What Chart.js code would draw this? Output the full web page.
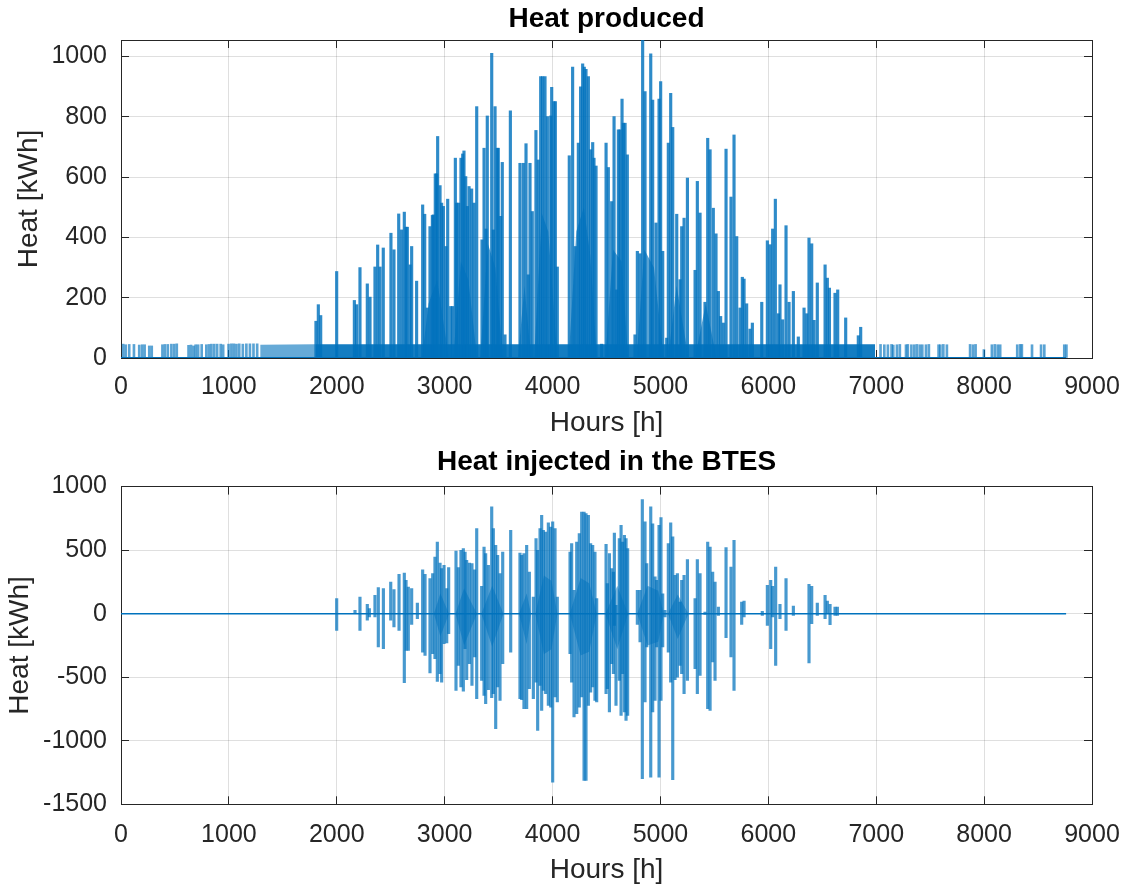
<!DOCTYPE html>
<html>
<head>
<meta charset="utf-8">
<script src="https://cdn.jsdelivr.net/npm/chart.js@4"></script>
<style>
  body { margin: 0; background: #fff; width: 1128px; height: 890px; position: relative; overflow: hidden; }
  .panel { position: absolute; left: 0; width: 1128px; }
</style>
</head>
<body>
<div class="panel" style="top:0;height:445px"><canvas id="produced"></canvas></div>
<div class="panel" style="top:440px;height:450px"><canvas id="injected"></canvas></div>
<script>
// axis ticks
const hourTicks = [0, 1000, 2000, 3000, 4000, 5000, 6000, 7000, 8000, 9000];
const producedTicks = [0, 200, 400, 600, 800, 1000];
const injectedTicks = [-1500, -1000, -500, 0, 500, 1000];

// Heat produced: daily peaks (hour, kWh)
const producedHours = [1807,1829,1851,1999,2163,2184,2215,2283,2308,2354,
  2379,2401,2431,2502,2530,2574,2601,2626,2642,2654,
  2679,2694,2740,2796,2815,2839,2864,2886,2895,2913,
  2926,2935,2957,2972,2988,3012,3028,3056,3074,3099,
  3111,3130,3151,3167,3179,3195,3210,3226,3250,3272,
  3297,3346,3365,3383,3395,3436,3451,3467,3488,3497,
  3519,3534,3559,3609,3698,3729,3754,3775,3791,3812,
  3846,3868,3890,3908,3930,3952,3983,3992,4013,4026,
  4044,4155,4186,4211,4239,4260,4279,4294,4310,4332,
  4353,4372,4384,4403,4455,4496,4517,4548,4570,4594,
  4610,4625,4644,4656,4672,4693,4764,4786,4811,4835,
  4857,4910,4928,4959,4987,5002,5021,5058,5073,5095,
  5114,5151,5182,5197,5219,5250,5321,5342,5367,5413,
  5438,5460,5490,5515,5537,5558,5583,5608,5654,5682,
  5707,5738,5759,5775,5799,5830,5852,5939,5991,6016,
  6040,6065,6093,6108,6133,6164,6192,6232,6278,6331,
  6356,6377,6402,6424,6454,6526,6547,6566,6618,6643,
  6717,6834,6856];
const producedPeaks = [122,177,141,287,191,177,300,246,202,302,
  375,302,365,414,359,478,425,484,434,434,
  309,370,255,508,477,166,436,473,475,611,
  611,735,572,514,503,370,527,171,171,663,
  514,514,663,677,687,602,503,569,561,514,
  834,392,696,428,803,1011,425,834,696,696,
  470,649,77,820,646,646,711,276,646,486,
  755,657,934,934,934,801,803,898,851,851,
  302,671,965,370,713,900,976,965,958,934,
  691,715,663,637,46,713,632,519,801,226,
  757,757,859,779,779,674,77,354,346,1055,
  884,1009,856,448,859,917,354,66,713,878,
  765,477,260,436,464,597,291,586,481,185,
  729,691,497,412,221,138,116,693,534,740,
  403,166,268,262,180,96,116,185,389,376,
  428,527,147,243,127,439,185,221,70,166,
  147,398,379,125,249,309,265,232,215,226,
  133,74,102];

// small off-season spikes
const producedLowHours = [20,43,76,120,169,196,219,262,285,384,
  407,434,467,493,517,626,649,672,692,715,
  748,791,815,838,864,891,924,947,997,1023,
  1046,1070,1096,1129,1162,1195,1228,1262,
  7040,7075,7108,7142,7158,7192,7219,7276,7293,7326,
  7353,7377,7404,7427,7461,7488,7578,7595,7622,7655,
  7870,7897,7921,7998,8072,8099,8126,8149,8307,8334,
  8350,8444,8528,8558,8743,8763];
const producedLowValues = [46,44,45,45,43,44,44,40,40,44,
  45,45,46,46,47,42,43,40,44,44,
  45,44,45,46,46,46,46,44,46,47,
  47,46,47,46,47,47,47,47,
  45,44,44,45,43,44,45,44,45,44,
  44,45,44,44,44,45,44,44,45,44,
  45,44,45,28,44,45,44,44,44,45,
  45,44,44,44,44,44];

// continuous low band of hourly production (striped start, then solid)
const earlyBandHours = [1290, 1290, 1800, 1800];
const earlyBandTop = [0, 44, 46, 0];
const bandHours = [1800, 1800, 6990, 6990];
const bandTop = [0, 46, 46, 0];

// periods where the hourly lines merge into a solid block (jagged top)
const producedDenseHours = [2790, 2850, 2930, 3040, 3080, 3150, 3220, 3300, 3330, 3400, 3470, 3540,
  3680, 3740, 3800, 3830, 3900, 3960, 4045, 4150, 4220, 4290, 4350, 4410,
  4490, 4560, 4640, 4700, 4780, 4850, 4940, 5030, 5070, 5150, 5260, 5320, 5420, 5520];
const producedDenseLevel = [0, 180, 260, 0, 0, 320, 260, 0, 0, 380, 300, 0,
  0, 240, 0, 0, 480, 420, 0, 0, 420, 500, 340, 0,
  0, 360, 320, 0, 0, 360, 300, 0, 0, 240, 0, 0, 180, 0];

// Heat injected in the BTES (hour, max kWh, min kWh)
const injectedHours = [1999,2169,2215,2283,2302,2354,2385,2432,2500,2530,
  2577,2626,2642,2663,2694,2747,2796,2818,2864,2889,
  2910,2932,2957,2972,2994,3019,3037,3105,3127,3151,
  3173,3189,3204,3229,3253,3278,3297,3343,3365,3380,
  3405,3436,3451,3473,3491,3513,3538,3612,3698,3714,
  3735,3760,3785,3822,3847,3862,3884,3899,3915,3936,
  3961,3983,4001,4023,4044,4162,4177,4199,4224,4248,
  4270,4292,4310,4332,4353,4372,4393,4409,4496,4508,
  4527,4548,4564,4573,4588,4619,4635,4650,4666,4681,
  4696,4786,4811,4832,4857,4873,4910,4928,4950,4965,
  4987,5005,5021,5042,5073,5095,5114,5135,5157,5182,
  5197,5219,5250,5321,5342,5367,5413,5438,5460,5484,
  5506,5537,5608,5654,5682,5753,5775,5944,5991,6022,
  6040,6068,6108,6164,6232,6377,6402,6454,6526,6547,
  6572,6618,6640];
const injectedUp = [118,26,131,73,40,144,205,197,249,189,
  310,320,262,210,197,84,346,310,276,315,
  446,564,399,354,380,197,362,493,362,499,
  512,485,420,399,394,346,669,215,525,472,
  380,840,669,538,459,315,485,656,477,459,
  472,538,328,131,590,499,669,774,656,643,
  714,682,722,669,131,485,551,184,564,630,
  800,800,787,774,551,538,485,118,546,236,
  472,354,328,635,66,590,695,564,617,590,
  512,184,184,897,722,394,840,708,289,262,
  695,756,157,26,551,714,604,302,315,92,
  262,302,425,118,425,315,13,564,525,328,
  249,52,520,367,577,92,100,18,223,262,
  215,367,73,276,60,231,215,84,144,100,
  73,52,52];
const injectedDown = [-131,0,-131,-52,-26,-26,-262,-276,-52,-105,
  -131,-543,-289,-289,-84,-40,-302,-328,-467,-315,
  -354,-533,-472,-538,-236,-231,-157,-603,-407,-577,
  -609,-276,-520,-394,-564,-341,-669,-525,-643,-708,
  -598,-661,-630,-905,-577,-682,-394,-302,-669,-677,
  -748,-748,-590,-669,-538,-918,-564,-761,-603,-630,
  -722,-735,-1325,-656,-695,-315,-538,-813,-787,-735,
  -656,-1312,-1312,-722,-617,-577,-682,-695,-630,-590,
  -774,-394,-472,-92,-722,-525,-800,-472,-774,-840,
  -800,-84,-223,-1299,-695,-262,-1286,-774,-682,-262,
  -1286,-682,-262,-26,-302,-538,-1307,-520,-499,-407,
  -472,-630,-525,-433,-630,-485,-5,-748,-761,-380,
  -525,-13,-189,-341,-603,-84,-26,-13,-92,-276,
  -26,-407,-40,-131,-13,-388,-79,-13,-40,0,
  -87,-13,-13];

// dense core of the injection bursts (jagged envelope)
const injectedDenseHours = [2900, 2960, 3040, 3100, 3180, 3300, 3340, 3440, 3545, 3690, 3760, 3800,
  3840, 3920, 3990, 4045, 4160, 4260, 4340, 4410, 4490, 4600, 4700, 4785, 4880, 4980, 5030,
  5070, 5160, 5260];
const injectedDenseUp = [0, 160, 0, 0, 200, 0, 0, 220, 0, 0, 160, 0,
  0, 300, 260, 0, 0, 280, 240, 0, 0, 220, 0, 0, 220, 180, 0,
  0, 150, 0];
const injectedDenseDown = [0, -180, 0, 0, -250, 0, 0, -260, 0, 0, -240, 0,
  0, -320, -280, 0, 0, -330, -300, 0, 0, -280, 0, 0, -250, -220, 0,
  0, -200, 0];

const simEnd = 8760;

const ink = '#262626';
const gridInk = 'rgba(38,38,38,0.15)';
const blue = '#0072BD';
const FONT = '"Liberation Sans", Arial, Helvetica, sans-serif';

function useTicks(list) {
  return scale => { scale.ticks = list.map(v => ({ value: v })); };
}

function area(xs, ys, color) {
  return { type: 'line', data: xs.map((x, i) => ({ x: x, y: ys[i] })), borderWidth: 0, pointRadius: 0,
           tension: 0, fill: 'origin', backgroundColor: color, borderColor: color };
}

function boxScales(o) {
  const tickFont = { family: FONT, size: 25 };
  const labelFont = { family: FONT, size: 28 };
  const inward = { color: gridInk, lineWidth: 1, tickColor: ink, tickWidth: 1, tickLength: -8, offset: false };
  const outline = { color: gridInk, tickColor: ink, tickWidth: 1, tickLength: -8, drawOnChartArea: false, offset: false };
  const border = { color: ink, width: 1 };
  const noPad = s => { s.paddingLeft = 0; s.paddingRight = 0; s.paddingTop = 0; s.paddingBottom = 0; };
  return {
    x: {
      type: 'linear', position: 'bottom', min: 0, max: 9000, offset: false,
      afterBuildTicks: useTicks(hourTicks),
      afterFit: s => { s.height = o.xHeight; noPad(s); },
      grid: inward, border: border,
      ticks: { color: ink, font: tickFont, padding: o.xTickPad, maxRotation: 0, autoSkip: false, callback: v => String(v) },
      title: { display: true, text: 'Hours [h]', color: ink, font: labelFont, padding: { top: 0, bottom: o.xTitlePad } }
    },
    xTop: {
      type: 'linear', position: 'top', min: 0, max: 9000, offset: false,
      afterBuildTicks: useTicks(hourTicks),
      afterFit: s => { s.height = 0; noPad(s); },
      grid: outline, border: border, ticks: { display: false }
    },
    y: {
      type: 'linear', position: 'left', min: o.yMin, max: o.yMax,
      afterBuildTicks: useTicks(o.yTicks),
      afterFit: s => { s.width = 121; noPad(s); },
      grid: inward, border: border,
      ticks: { color: ink, font: tickFont, padding: 22, callback: v => String(v) },
      title: { display: true, text: 'Heat [kWh]', color: ink, font: labelFont, padding: { top: o.yTitlePad, bottom: 0 } }
    },
    yRight: {
      type: 'linear', position: 'right', min: o.yMin, max: o.yMax,
      afterBuildTicks: useTicks(o.yTicks),
      afterFit: s => { s.width = 0; noPad(s); },
      grid: outline, border: border, ticks: { display: false }
    }
  };
}

function makeChart(id, datasets, o) {
  return new Chart(document.getElementById(id), {
    type: 'bar',
    data: { datasets: datasets },
    options: {
      responsive: true, maintainAspectRatio: false, animation: false, events: [],
      layout: { padding: { left: 0, right: 36, top: 0, bottom: 0 } },
      plugins: {
        legend: { display: false },
        tooltip: { enabled: false },
        title: {
          display: true, text: o.title, color: '#000', fullSize: false,
          font: { family: FONT, size: 28, weight: 'bold' },
          padding: { top: o.titleTop, bottom: o.titleBottom }
        }
      },
      scales: boxScales(o)
    }
  });
}

// top panel
makeChart('produced', [
  { type: 'line', data: [{ x: 0, y: 0 }, { x: simEnd, y: 0 }], borderColor: blue, borderWidth: 2, pointRadius: 0 },
  { type: 'bar', data: producedHours.map((h, i) => ({ x: h, y: producedPeaks[i] })),
    backgroundColor: 'rgba(0,114,189,0.82)', barThickness: 2.5, grouped: false, borderWidth: 0 },
  { type: 'bar', data: producedLowHours.map((h, i) => ({ x: h, y: producedLowValues[i] })),
    backgroundColor: 'rgba(0,114,189,0.65)', barThickness: 2, grouped: false, borderWidth: 0 },
  area(bandHours, bandTop, 'rgba(0,114,189,0.92)'),
  area(earlyBandHours, earlyBandTop, 'rgba(0,114,189,0.6)'),
  area(producedDenseHours, producedDenseLevel, 'rgba(0,114,189,0.65)')
], {
  title: 'Heat produced', titleTop: 2, titleBottom: 4.4,
  yMin: 0, yMax: Math.max(...producedPeaks), yTicks: producedTicks,
  xHeight: 87, xTickPad: 22, xTitlePad: 5, yTitlePad: 12
});

// bottom panel
makeChart('injected', [
  { type: 'line', data: [{ x: 0, y: 0 }, { x: simEnd, y: 0 }], borderColor: blue, borderWidth: 1.5, pointRadius: 0 },
  { type: 'bar', data: injectedHours.map((h, i) => ({ x: h, y: [injectedDown[i], injectedUp[i]] })),
    backgroundColor: 'rgba(0,114,189,0.72)', barThickness: 2.5, grouped: false, borderWidth: 0 },
  area(injectedDenseHours, injectedDenseUp, 'rgba(0,114,189,0.5)'),
  area(injectedDenseHours, injectedDenseDown, 'rgba(0,114,189,0.5)')
], {
  title: 'Heat injected in the BTES', titleTop: 5, titleBottom: 8,
  yMin: -1500, yMax: 1000, yTicks: injectedTicks,
  xHeight: 85.7, xTickPad: 24, xTitlePad: 3, yTitlePad: 3
});
</script>
</body>
</html>
